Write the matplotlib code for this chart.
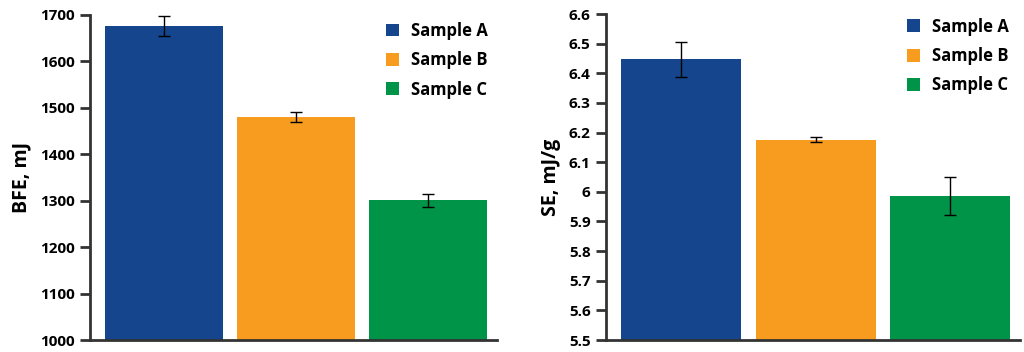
import matplotlib.pyplot as plt

# values
samples = ["Sample A", "Sample B", "Sample C"]
bfe = [1676, 1481, 1301]
bfe_err = [21, 11, 14]
se = [6.447, 6.176, 5.986]
se_err = [0.059, 0.008, 0.063]
colors = ["#15458c", "#f89c20", "#009448"]

plt.rcParams["font.family"] = ["Open Sans", "DejaVu Sans"]
plt.rcParams["font.weight"] = "bold"

fig = plt.figure(figsize=(10.24, 3.52), dpi=100)
ax1 = fig.add_axes([90 / 1024, 12 / 352, 407 / 1024, 325 / 352])
ax2 = fig.add_axes([606 / 1024, 12 / 352, 414 / 1024, 326 / 352])


def draw(ax, vals, errs, ylim, step, ylabel, fmt, leg_anchor):
    x = range(len(vals))
    bars = ax.bar(x, vals, width=0.895, color=colors, yerr=errs,
                  error_kw=dict(ecolor="black", elinewidth=1, capsize=4, capthick=1),
                  bottom=0)
    ax.set_ylim(*ylim)
    ax.set_xlim(-0.56, 2.52)
    ticks = []
    v = ylim[0]
    while v <= ylim[1] + 1e-9:
        ticks.append(round(v, 2))
        v += step
    ax.set_yticks(ticks)
    ax.set_yticklabels([fmt(t) for t in ticks], fontsize=11, fontweight="bold")
    ax.set_xticks([])
    ax.set_ylabel(ylabel, fontsize=14, fontweight="bold", labelpad=6)
    for s in ["top", "right"]:
        ax.spines[s].set_visible(False)
    for s in ["left", "bottom"]:
        ax.spines[s].set_color("#333333")
        ax.spines[s].set_linewidth(2)
    ax.tick_params(axis="y", length=7, width=2, color="#333333", pad=4)
    ax.legend(bars, samples, loc="upper left", bbox_to_anchor=leg_anchor,
              frameon=False, handlelength=0.8, handleheight=0.8,
              labelspacing=0.68, handletextpad=0.7,
              prop=dict(size=12, weight="bold"))


draw(ax1, bfe, bfe_err, (1000, 1700), 100, "BFE, mJ",
     lambda t: f"{int(t)}", (0.69, 1.025))
draw(ax2, se, se_err, (5.5, 6.6), 0.1, "SE, mJ/g",
     lambda t: f"{t:g}", (0.69, 1.035))

fig.savefig("out.png", dpi=100)
